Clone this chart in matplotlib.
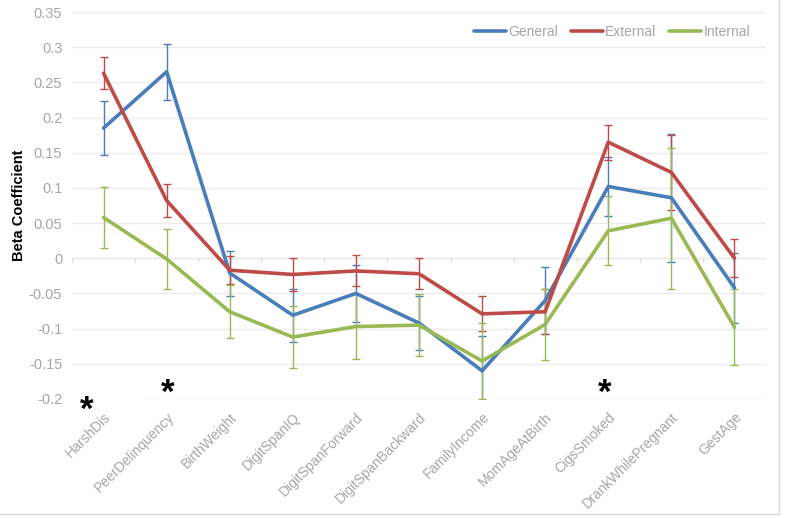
import matplotlib.pyplot as plt
import matplotlib.patches as mpatches
import numpy as np

plt.rcParams['font.family'] = ['Liberation Sans', 'DejaVu Sans']

categories = ['HarshDis', 'PeerDelinquency', 'BirthWeight', 'DigitSpanIQ',
              'DigitSpanForward', 'DigitSpanBackward', 'FamilyIncome',
              'MomAgeAtBirth', 'CigsSmoked', 'DrankWhilePregnant', 'GestAge']

general = [0.185, 0.265, -0.021, -0.081, -0.050, -0.092, -0.160, -0.060, 0.102, 0.086, -0.042]
general_err = [0.038, 0.040, 0.032, 0.038, 0.040, 0.038, 0.050, 0.048, 0.042, 0.091, 0.050]

external = [0.263, 0.082, -0.017, -0.023, -0.018, -0.022, -0.079, -0.076, 0.165, 0.122, 0.000]
external_err = [0.023, 0.024, 0.020, 0.023, 0.022, 0.022, 0.025, 0.032, 0.025, 0.053, 0.027]

internal = [0.058, -0.001, -0.076, -0.112, -0.097, -0.095, -0.146, -0.094, 0.039, 0.057, -0.098]
internal_err = [0.044, 0.042, 0.038, 0.044, 0.046, 0.044, 0.054, 0.050, 0.049, 0.100, 0.054]

# asterisks (significance marks)
stars_x = [-0.26, 1.02, 7.94]
stars_y = [-0.216, -0.192, -0.192]

yticks = [-0.2, -0.15, -0.1, -0.05, 0, 0.05, 0.1, 0.15, 0.2, 0.25, 0.3, 0.35]
ytick_labels = ['-0.2', '-0.15', '-0.1', '-0.05', '0', '0.05', '0.1', '0.15',
                '0.2', '0.25', '0.3', '0.35']

c_gen = '#4a7ebb'
c_ext = '#be4b48'
c_int = '#98b954'
gray = '#a6a6a6'

fig = plt.figure(figsize=(7.87, 5.18), dpi=100)
ax = fig.add_axes([72/787, 1-399/518, (766-72)/787, (399-12)/518])

x = np.arange(len(categories))

for vals, errs, col, lab in [(general, general_err, c_gen, 'General'),
                             (external, external_err, c_ext, 'External'),
                             (internal, internal_err, c_int, 'Internal')]:
    ax.errorbar(x, vals, yerr=errs, fmt='none', ecolor=col, elinewidth=1.0,
                capsize=3, capthick=1.0, zorder=3)
    ax.plot(x, vals, color=col, lw=2.6, label=lab, zorder=4,
            solid_capstyle='round', solid_joinstyle='round')

ax.set_xlim(-0.5, len(categories) - 0.5)
ax.set_ylim(-0.2, 0.35)
ax.set_yticks(yticks)
ax.set_yticklabels(ytick_labels)
ax.set_xticks(x)
ax.set_xticklabels(categories, rotation=45, ha='right', rotation_mode='anchor')
ax.tick_params(axis='y', length=0, colors=gray, labelsize=10.5, pad=7)
ax.tick_params(axis='x', length=0, colors=gray, labelsize=10, pad=8)
ax.grid(axis='y', color='#ececec', lw=1, zorder=0)
for s in ax.spines.values():
    s.set_visible(False)

# axis line at zero with category tick marks
ax.axhline(0, color='#d9d9d9', lw=1, zorder=1)
ax.vlines(np.arange(len(categories) + 1) - 0.5, -0.006, 0.0, color='#d9d9d9', lw=1, zorder=1)

ax.set_ylabel('Beta Coefficient', fontsize=10.5, fontweight='bold', color='black', labelpad=2)

# white box behind first asterisk hides part of the bottom gridline
ax.add_patch(mpatches.Rectangle((-0.5, -0.215), 1.12, 0.03, facecolor='white',
                                edgecolor='none', zorder=2, clip_on=False))
for sx, sy in zip(stars_x, stars_y):
    ax.text(sx, sy, '*', fontsize=25, fontweight='bold', ha='center', va='center',
            color='black', zorder=6, clip_on=False)

leg = ax.legend(loc='upper right', ncol=3, frameon=False, fontsize=10,
                handlelength=2.3, handletextpad=0.15, columnspacing=0.95,
                bbox_to_anchor=(0.995, 1.0))
for t in leg.get_texts():
    t.set_color(gray)

# chart area border (right and bottom)
fig.add_artist(plt.Line2D([779/787, 779/787], [1 - 514/518, 1], color='#d9d9d9', lw=1))
fig.add_artist(plt.Line2D([0, 779/787], [1 - 514/518, 1 - 514/518], color='#d9d9d9', lw=1))

fig.savefig('out.png', dpi=100)
